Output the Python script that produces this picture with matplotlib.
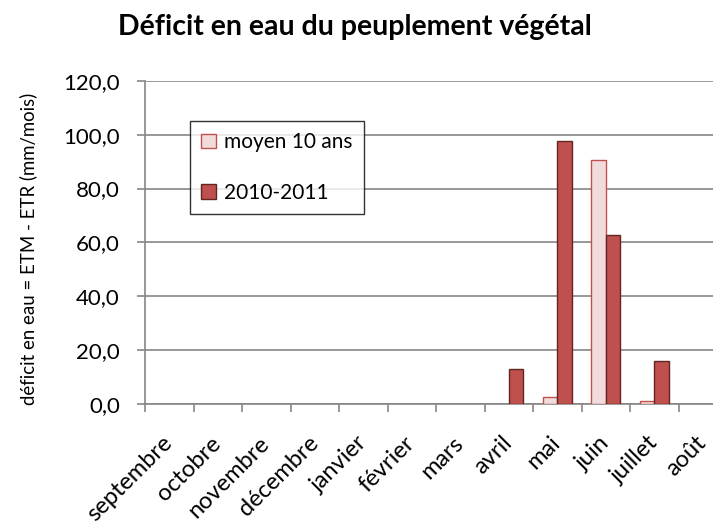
import matplotlib
matplotlib.use("Agg")
import matplotlib.pyplot as plt
import matplotlib.transforms as mtransforms
from matplotlib.patches import Patch
import numpy as np

months = ["septembre", "octobre", "novembre", "décembre", "janvier", "février",
          "mars", "avril", "mai", "juin", "juillet", "août"]
moyen_10_ans = [0, 0, 0, 0, 0, 0, 0, 0, 2.4, 90.7, 1.0, 0]
annee_2010_2011 = [0, 0, 0, 0, 0, 0, 0, 13.0, 97.7, 62.7, 15.9, 0]
series_names = ["moyen 10 ans", "2010-2011"]
y_ticks = [0, 20, 40, 60, 80, 100, 120]
y_tick_labels = ["0,0", "20,0", "40,0", "60,0", "80,0", "100,0", "120,0"]

plt.rcParams['font.family'] = ['Lato', 'DejaVu Sans']

W, H = 713, 526
fig = plt.figure(figsize=(W / 100, H / 100), dpi=100)
ax_l, ax_r, ax_t, ax_b = 145, 727, 80.9, 403.7
ax = fig.add_axes([ax_l / W, 1 - ax_b / H, (ax_r - ax_l) / W, (ax_b - ax_t) / H])

fill1, edge1 = "#F2DCDB", "#C0504D"
fill2, edge2 = "#C0504D", "#632523"

x = np.arange(len(months))
w = 0.295
lw1 = [0 if v == 0 else 1.0 for v in moyen_10_ans]
lw2 = [0 if v == 0 else 1.0 for v in annee_2010_2011]
ax.bar(x - w / 2, moyen_10_ans, w, color=fill1, edgecolor=edge1,
       linewidth=lw1, zorder=3)
ax.bar(x + w / 2, annee_2010_2011, w, color=fill2, edgecolor=edge2,
       linewidth=lw2, zorder=3)

ax.set_xlim(-0.5, len(months) - 0.5)
ax.set_ylim(0, 120)
ax.set_yticks(y_ticks)
ax.set_yticklabels(y_tick_labels, fontsize=16)
ax.yaxis.grid(True, color="#868686", linewidth=1.2)
ax.set_axisbelow(True)

ax.set_xticks(np.arange(len(months) + 1) - 0.5, minor=False)
ax.set_xticklabels([])
ax.set_xticks(x, minor=True)
labels = ax.set_xticklabels(months, minor=True, rotation=45, ha="right", va="center",
                            rotation_mode="anchor", fontsize=17)
offset = mtransforms.ScaledTranslation(2 / 100, 0, fig.dpi_scale_trans)
for lab in labels:
    lab.set_transform(lab.get_transform() + offset)
ax.tick_params(axis="x", which="minor", length=0, pad=26)
ax.tick_params(axis="x", which="major", length=6, color="#868686", width=1.2)
ax.tick_params(axis="y", length=6, color="#868686", width=1.2, pad=12)

for s in ["top", "right"]:
    ax.spines[s].set_visible(False)
for s in ["left", "bottom"]:
    ax.spines[s].set_color("#868686")
    ax.spines[s].set_linewidth(1.2)

ax.set_ylabel("déficit en eau = ETM - ETR (mm/mois)", fontsize=13.4)
ax.yaxis.set_label_coords(-(145 - 37) / (ax_r - ax_l), 0.5 - 7 / (ax_b - ax_t))

fig.text(355 / W, 1 - 35 / H, "Déficit en eau du peuplement végétal",
         ha="center", va="baseline", fontsize=20.5, fontweight="bold")

handles = [Patch(facecolor=fill1, edgecolor=edge1, linewidth=1.0),
           Patch(facecolor=fill2, edgecolor=edge2, linewidth=1.0)]
leg = ax.legend(handles, series_names, loc="upper left",
                bbox_to_anchor=((190 - ax_l) / (ax_r - ax_l), (ax_b - 121) / (ax_b - ax_t)),
                frameon=True, fancybox=False, edgecolor="black", fontsize=15,
                handlelength=0.7, handleheight=0.7, handletextpad=0.4,
                labelspacing=1.45, borderpad=0.55, borderaxespad=0)
leg.get_frame().set_linewidth(1.0)

fig.savefig("out.png", dpi=100)
